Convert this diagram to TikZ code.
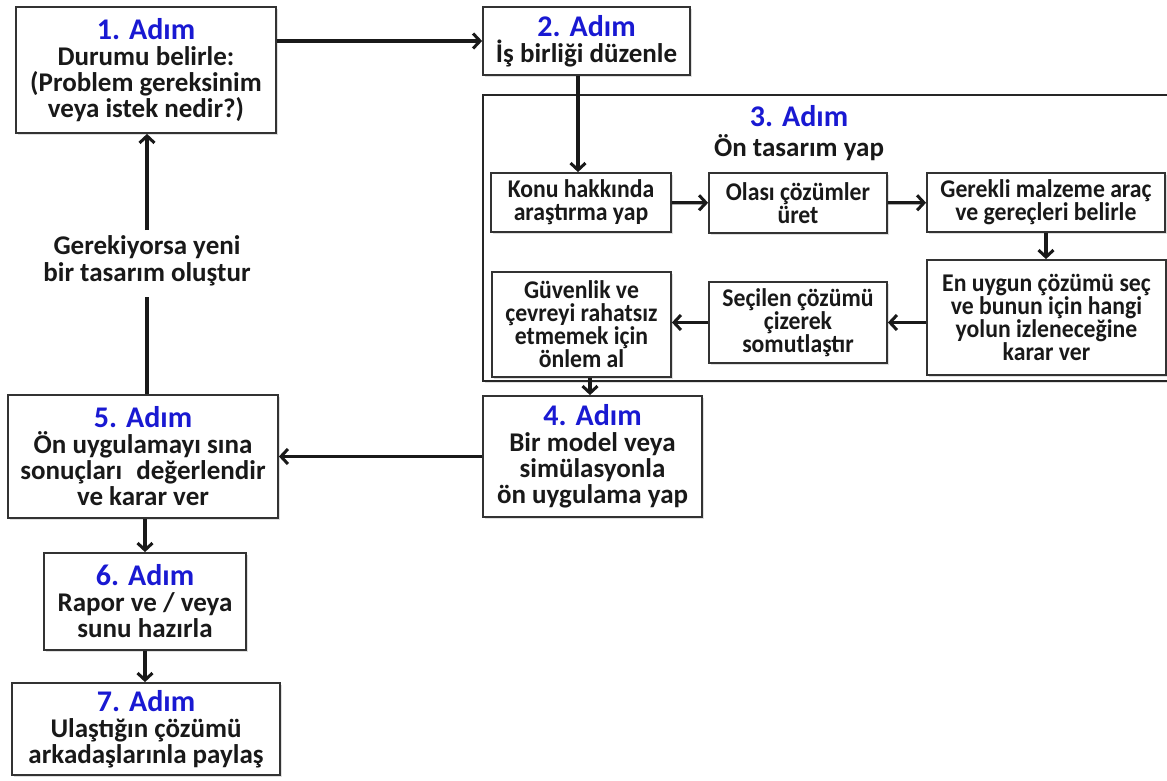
\documentclass[tikz,border=0pt]{standalone}
\usepackage{fontspec}
\setmainfont{Carlito}
\newfontfamily\condfont[FakeStretch=0.93]{Carlito}
\usetikzlibrary{arrows.meta,shadows}
\definecolor{stepblue}{RGB}{25,25,210}
\definecolor{inkc}{RGB}{25,25,25}
\tikzset{
  box/.style={draw=black!80, line width=1.8pt, fill=white, align=center, inner sep=0pt,
    text=inkc, font=\bfseries\fontsize{27}{26}\selectfont,
    drop shadow={opacity=0.25, shadow xshift=2pt, shadow yshift=-2pt}},
  ibox/.style={box, font=\condfont\bfseries\fontsize{25.5}{23}\selectfont},
  frame/.style={draw=black!85, line width=2.4pt, inner sep=0pt,
    drop shadow={opacity=0.25, shadow xshift=2pt, shadow yshift=-2pt}, fill=white},
  conn/.style={line width=3.2pt, color=inkc, -{Straight Barb[length=7pt,width=15pt,line width=3pt]}},
  plain/.style={line width=3.2pt, color=inkc},
}
\newcommand{\stepttl}[1]{\textcolor{stepblue}{\fontsize{30}{30}\selectfont #1}}
\begin{document}
\begin{tikzpicture}[x=1pt,y=-1pt]
\useasboundingbox (0,0) rectangle (1167,781);
\fill[white] (0,0) rectangle (1167,781);
% step 3 frame
\node[frame, minimum width=692pt, minimum height=286pt] (f3) at (829,238) {};
\node[align=center, inner sep=0pt, text=inkc, font=\bfseries\fontsize{27}{30}\selectfont] (t3) at (799,133)
  {\stepttl{3. Adım}\\Ön tasarım yap};
% main boxes
\node[box, minimum width=260pt, minimum height=126pt] (b1) at (146,70)
  {\stepttl{1. Adım}\\Durumu belirle:\\(Problem gereksinim\\veya istek nedir?)};
\node[box, minimum width=207pt, minimum height=68pt] (b2) at (586.5,41)
  {\stepttl{2. Adım}\\İş birliği düzenle};
\node[box, minimum width=219pt, minimum height=121pt] (b4) at (592.5,456.5)
  {\stepttl{4. Adım}\\Bir model veya\\simülasyonla\\ön uygulama yap};
\node[box, minimum width=270pt, minimum height=123pt] (b5) at (143,456.5)
  {\stepttl{5. Adım}\\Ön uygulamayı sına\\sonuçları\hspace{0.3em} değerlendir\\ve karar ver};
\node[box, minimum width=202pt, minimum height=97pt] (b6) at (145,601.5)
  {\stepttl{6. Adım}\\Rapor ve / veya\\sunu hazırla};
\node[box, minimum width=268pt, minimum height=92pt] (b7) at (146,729)
  {\stepttl{7. Adım}\\Ulaştığın çözümü\\arkadaşlarınla paylaş};
% inner boxes
\node[ibox, minimum width=180pt, minimum height=59pt] (k1) at (581,202.5)
  {Konu hakkında\\araştırma yap};
\node[ibox, minimum width=178pt, minimum height=60pt] (k2) at (798,203)
  {Olası çözümler\\üret};
\node[ibox, minimum width=238pt, minimum height=59pt] (k3) at (1046,202.5)
  {Gerekli malzeme araç\\ve gereçleri belirle};
\node[ibox, minimum width=239pt, minimum height=115pt] (k4) at (1046.5,317.5)
  {En uygun çözümü seç\\ve bunun için hangi\\yolun izleneceğine\\karar ver};
\node[ibox, minimum width=178pt, minimum height=81pt] (k5) at (798,322.5)
  {Seçilen çözümü\\çizerek\\somutlaştır};
\node[ibox, minimum width=179pt, minimum height=105pt] (k6) at (581.5,324.5)
  {Güvenlik ve\\çevreyi rahatsız\\etmemek için\\önlem al};
% label
\node[align=center, inner sep=0pt, text=inkc, font=\bfseries\fontsize{27}{27}\selectfont] (lbl) at (147,261)
  {Gerekiyorsa yeni\\bir tasarım oluştur};
\coordinate (lt) at (147,230);
\coordinate (lb) at (147,297);
% connectors
\draw[conn] (b1.east |- b2.west) -- (b2.west);
\draw[conn] (b2.south -| 578,0) -- (k1.north -| 578,0);
\draw[conn] (k1) -- (k2);
\draw[conn] (k2) -- (k3);
\draw[conn] (k3) -- (k3 |- k4.north);
\draw[conn] (k4.west |- k5.east) -- (k5.east);
\draw[conn] (k5.west) -- (k6.east |- k5.west);
\draw[conn] (k6.south -| 590,0) -- (b4.north -| 590,0);
\draw[conn] (b4.west) -- (b5.east |- b4.west);
\draw[plain] (b5.north -| lb) -- (lb);
\draw[conn] (lt) -- (lt |- b1.south);
\draw[conn] (b5.south -| b6.north) -- (b6.north);
\draw[conn] (b6.south) -- (b6.south |- b7.north);
\end{tikzpicture}
\end{document}
